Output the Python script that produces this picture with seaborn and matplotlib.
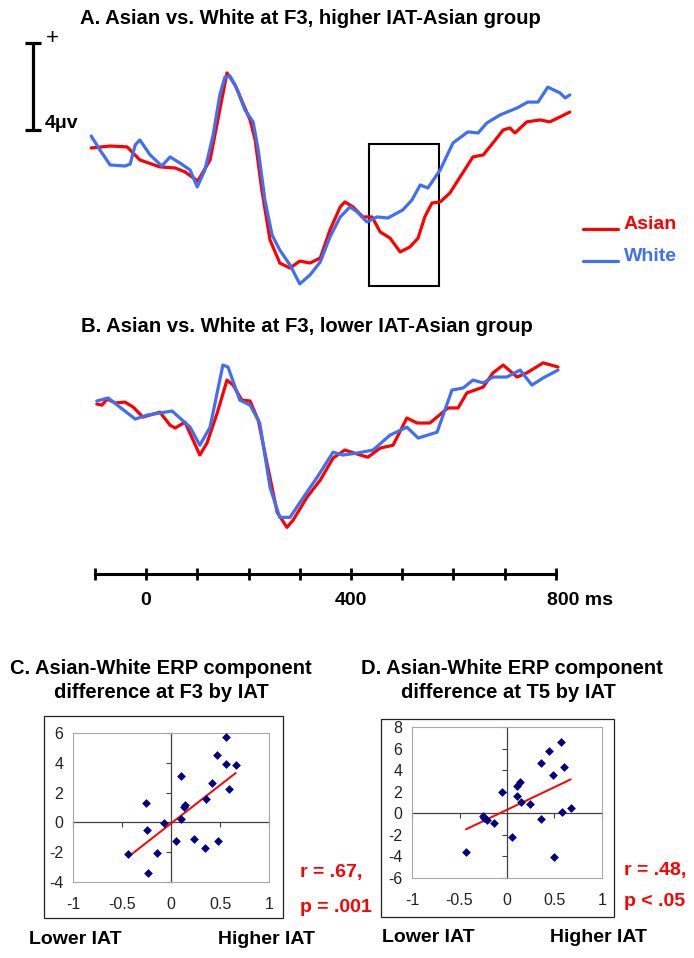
import numpy as np
import pandas as pd
import matplotlib
matplotlib.use("Agg")
import matplotlib.pyplot as plt
import seaborn as sns
from matplotlib.lines import Line2D
from matplotlib.patches import Rectangle
from matplotlib.transforms import ScaledTranslation

sns.set_style("white")
plt.rcParams["font.family"] = ["Liberation Sans", "DejaVu Sans"]
plt.rcParams["text.color"] = "black"
plt.rcParams["xtick.color"] = "black"
plt.rcParams["ytick.color"] = "black"
plt.rcParams["axes.labelcolor"] = "black"

# ---------------- data ----------------
# Panel A (higher IAT-Asian group), F3, time in ms, amplitude in microvolts
A_ASIAN_MS = [-107, -70, -37, -12, 27, 57, 76, 101, 125, 144, 158, 174, 193, 203, 213, 226,
              242, 261, 281, 300, 320, 340, 359, 379, 388, 404, 423, 441, 457, 476, 496, 515,
              531, 544, 558, 574, 593, 613, 638, 658, 677, 697, 710, 720, 743, 769, 788, 808, 827]
A_ASIAN_UV = [0.46, 0.55, 0.51, -0.09, -0.41, -0.46, -0.64, -1.06, -0.09, 2.21, 3.91, 3.36, 2.30,
              1.75, 0.83, -1.47, -3.77, -4.83, -5.06, -4.74, -4.83, -4.60, -3.31, -2.25, -2.02,
              -2.25, -2.71, -2.71, -3.40, -3.68, -4.32, -4.09, -3.68, -2.71, -2.07, -2.02, -1.61,
              -0.87, 0.05, 0.14, 0.69, 1.29, 1.38, 1.15, 1.66, 1.75, 1.66, 1.89, 2.11]
A_WHITE_MS = [-107, -90, -70, -41, -31, -21, -12, 8, 31, 47, 66, 86, 100, 115, 131, 144, 154,
              164, 178, 193, 209, 219, 232, 246, 261, 281, 300, 320, 340, 359, 379, 398, 412,
              431, 451, 472, 501, 519, 535, 550, 574, 599, 628, 648, 665, 691, 724, 745, 765,
              784, 808, 818, 827]
A_WHITE_UV = [1.01, 0.37, -0.32, -0.37, -0.28, 0.60, 0.83, 0.14, -0.37, 0.05, -0.23, -0.55,
              -1.33, -0.55, 1.06, 2.90, 3.72, 3.77, 3.13, 2.21, 1.66, 0.37, -1.93, -3.54, -4.23,
              -4.92, -5.79, -5.38, -4.78, -3.63, -2.71, -2.25, -2.48, -2.94, -2.71, -2.76, -2.39,
              -1.93, -1.24, -1.38, -0.55, 0.69, 1.20, 1.15, 1.61, 1.98, 2.30, 2.57, 2.57, 3.26,
              2.99, 2.76, 2.90]

# Panel B (lower IAT-Asian group), F3
B_ASIAN_MS = [-96, -86, -76, -60, -41, -25, -6, 27, 47, 57, 76, 92, 105, 119, 139, 158, 170,
              187, 203, 219, 236, 256, 275, 287, 314, 340, 365, 388, 418, 433, 457, 482, 509,
              529, 554, 589, 609, 626, 658, 677, 697, 724, 743, 775, 804]
B_ASIAN_UV = [0.00, -0.05, 0.23, 0.05, 0.09, -0.14, -0.60, -0.37, -0.97, -1.10, -0.83, -1.66,
              -2.34, -1.79, -0.41, 1.10, 0.87, 0.18, 0.14, -0.74, -2.71, -4.97, -5.66, -5.33,
              -4.28, -3.49, -2.48, -2.11, -2.34, -2.44, -2.02, -1.89, -0.64, -0.87, -0.87, -0.18,
              -0.18, 0.51, 0.78, 1.43, 1.79, 1.24, 1.43, 1.89, 1.70]
B_WHITE_MS = [-96, -74, -51, -21, 2, 27, 51, 66, 86, 105, 125, 150, 160, 183, 203, 222, 242,
              261, 281, 306, 334, 365, 384, 412, 443, 476, 509, 531, 568, 597, 619, 638, 658,
              677, 704, 730, 753, 775, 804]
B_WHITE_UV = [0.14, 0.28, -0.14, -0.69, -0.51, -0.41, -0.32, -0.64, -1.06, -1.89, -1.06, 1.79,
              1.70, 0.18, -0.05, -0.87, -3.82, -5.20, -5.20, -4.32, -3.36, -2.21, -2.34, -2.25,
              -2.11, -1.43, -1.06, -1.56, -1.29, 0.64, 0.74, 1.10, 0.97, 1.24, 1.24, 1.56, 0.87,
              1.20, 1.56]

# Panel C: IAT score vs Asian-White ERP difference at F3
C_IAT = [0.561, 0.466, 0.558, 0.660, 0.102, 0.418, 0.588, -0.255, 0.354, 0.143, 0.129, 0.102,
         -0.068, -0.245, 0.048, 0.235, 0.476, 0.347, -0.435, -0.139, -0.235]
C_DIFF = [5.76, 4.51, 3.93, 3.87, 3.13, 2.64, 2.24, 1.33, 1.60, 1.20, 1.04, 0.20, -0.02, -0.51,
          -1.24, -1.11, -1.24, -1.71, -2.13, -2.04, -3.40]
# Panel D: IAT score vs Asian-White ERP difference at T5
D_IAT = [0.571, 0.439, 0.361, 0.600, 0.479, 0.136, 0.107, -0.054, 0.107, 0.150, 0.246, 0.671,
         0.575, -0.250, -0.239, -0.214, -0.132, 0.357, 0.057, -0.432, 0.493]
D_DIFF = [6.59, 5.75, 4.69, 4.25, 3.59, 2.91, 2.53, 2.00, 1.63, 1.03, 0.84, 0.50, 0.13, -0.28,
          -0.47, -0.63, -0.94, -0.50, -2.22, -3.59, -4.06]

TIME_TICKS = list(range(-100, 801, 100))
TIME_LABELS = {0: "0", 400: "400", 800: "800 ms"}
SCALE_UV = 4
WINDOW_MS = (435, 572)
WINDOW_UV = (-5.9, 0.64)
X_TICKS = [-1, -0.5, 0, 0.5, 1]
X_TICKLABELS = ["-1", "-0.5", "0", "0.5", "1"]
C_YTICKS = [-4, -2, 0, 2, 4, 6]
D_YTICKS = [-6, -4, -2, 0, 2, 4, 6, 8]

RED = "#ff0000"
BLUE = "#3f6ff2"
NAVY = "#000080"

W, H = 694, 958
fig = plt.figure(figsize=(W / 100, H / 100), dpi=100)
fig.patch.set_facecolor("white")


def px_axes(l, t, r, b):
    ax = fig.add_axes([l / W, 1 - b / H, (r - l) / W, (b - t) / H])
    ax.set_facecolor("none")
    return ax


def ftext(x, y, s, **kw):
    return fig.text(x / W, 1 - y / H, s, **kw)


XLIM = (-284.9, 1069.3)


def long_df(a_ms, a_uv, w_ms, w_uv):
    return pd.DataFrame({
        "time": list(a_ms) + list(w_ms),
        "uv": list(a_uv) + list(w_uv),
        "group": ["Asian"] * len(a_ms) + ["White"] * len(w_ms),
    })


pal = {"Asian": RED, "White": BLUE}

# ---------------- Panel A ----------------
axA = px_axes(0, 30, 694, 300)
dfA = long_df(A_ASIAN_MS, A_ASIAN_UV, A_WHITE_MS, A_WHITE_UV)
sns.lineplot(data=dfA, x="time", y="uv", hue="group", palette=pal, hue_order=["Asian", "White"],
             estimator=None, sort=False, lw=2.3, ax=axA, legend=False)
axA.set_xlim(*XLIM)
axA.set_ylim(-6.53, 5.885)
axA.axis("off")
axA.add_patch(Rectangle((WINDOW_MS[0], WINDOW_UV[0]), WINDOW_MS[1] - WINDOW_MS[0],
                        WINDOW_UV[1] - WINDOW_UV[0], fill=False, ec="black", lw=1.5))
# scale bar
bx, by = -220.5, 1.29
axA.plot([bx, bx], [by, by + SCALE_UV], color="black", lw=2.3, clip_on=False, solid_capstyle="butt")
for yy in (by, by + SCALE_UV):
    axA.plot([bx - 16, bx + 15], [yy, yy], color="black", lw=2.3, clip_on=False, solid_capstyle="butt")
axA.text(-183, 5.5, "+", fontsize=16, ha="center", va="center")
axA.text(-198, by + 0.3, f"{SCALE_UV}μv", fontsize=14, fontweight="bold", ha="left", va="center")

handles = [Line2D([], [], color=RED, lw=2.3), Line2D([], [], color=BLUE, lw=2.3)]
leg = axA.legend(handles, ["Asian", "White"], loc="upper left",
                 bbox_to_anchor=(583 / W, 1 - 215 / H), bbox_transform=fig.transFigure,
                 frameon=False, prop={"weight": "bold", "size": 14}, handlelength=1.8,
                 handletextpad=0.3, labelspacing=0.75, borderpad=0, borderaxespad=0)
for t, c in zip(leg.get_texts(), [RED, BLUE]):
    t.set_color(c)
for ln in leg.get_lines():
    ln.set_ydata(np.zeros(len(ln.get_xdata())))

ftext(310, 19, "A. Asian vs. White at F3, higher IAT-Asian group", ha="center", va="center",
      fontsize=14.6, fontweight="bold")

# ---------------- Panel B ----------------
axB = px_axes(0, 340, 694, 574)
dfB = long_df(B_ASIAN_MS, B_ASIAN_UV, B_WHITE_MS, B_WHITE_UV)
sns.lineplot(data=dfB, x="time", y="uv", hue="group", palette=pal, hue_order=["Asian", "White"],
             estimator=None, sort=False, lw=2.3, ax=axB, legend=False)
axB.set_xlim(*XLIM)
axB.set_ylim(-7.8, 2.94)
axB.set_xlabel("")
axB.set_ylabel("")
for s in ("top", "left", "right"):
    axB.spines[s].set_visible(False)
axB.spines["bottom"].set_bounds(TIME_TICKS[0], TIME_TICKS[-1])
axB.spines["bottom"].set_linewidth(2.2)
axB.spines["bottom"].set_color("black")
axB.set_yticks([])
axB.set_xticks(TIME_TICKS)
axB.set_xticklabels([TIME_LABELS.get(t, "") for t in TIME_TICKS])
axB.tick_params(axis="x", direction="inout", length=8, width=2, color="black", pad=9,
                labelsize=14, labelcolor="black", bottom=True)
for lbl in axB.get_xticklabels():
    lbl.set_fontweight("bold")
    if lbl.get_text().endswith("ms"):
        lbl.set_horizontalalignment("left")
        lbl.set_transform(lbl.get_transform() + ScaledTranslation(-0.09, 0, fig.dpi_scale_trans))

ftext(307, 327, "B. Asian vs. White at F3, lower IAT-Asian group", ha="center", va="center",
      fontsize=14.6, fontweight="bold")


# ---------------- Panels C & D ----------------
def scatter_panel(box, frame, x, y, yticks, ylim):
    ax = px_axes(*box)
    df = pd.DataFrame({"iat": x, "diff": y})
    sns.scatterplot(data=df, x="iat", y="diff", marker="D", s=20, color=NAVY, edgecolor=NAVY,
                    linewidth=0, ax=ax, zorder=4)
    sns.regplot(data=df, x="iat", y="diff", scatter=False, ci=None, truncate=True, color=RED,
                line_kws={"lw": 1.4, "zorder": 3}, ax=ax)
    ax.set_xlim(-1, 1)
    ax.set_ylim(*ylim)
    ax.set_xticks(X_TICKS)
    ax.set_xticklabels(X_TICKLABELS)
    ax.set_yticks(yticks)
    ax.set_yticklabels([str(v) for v in yticks])
    ax.set_xlabel("")
    ax.set_ylabel("")
    ax.tick_params(length=0, labelsize=11.5, labelcolor="#222222")
    ax.tick_params(axis="y", pad=7)
    ax.tick_params(axis="x", pad=11)
    for s in ax.spines.values():
        s.set_color("#a8a8a8")
        s.set_linewidth(0.8)
    x0 = (0 - ax.get_xlim()[0]) / (ax.get_xlim()[1] - ax.get_xlim()[0])
    y0 = (0 - ylim[0]) / (ylim[1] - ylim[0])
    sy = ax.secondary_yaxis(x0)
    sy.set_yticks(yticks)
    sy.tick_params(direction="in", length=3.5, width=0.8, color="#404040",
                   labelleft=False, labelright=False)
    for s in sy.spines.values():
        s.set_color("#404040")
        s.set_linewidth(0.9)
    sx = ax.secondary_xaxis(y0)
    sx.set_xticks(X_TICKS)
    sx.tick_params(direction="out", length=3.5, width=0.8, color="#404040",
                   labelbottom=False, labeltop=False)
    for s in sx.spines.values():
        s.set_color("#404040")
        s.set_linewidth(0.9)
    l, t, r, b = frame
    fig.add_artist(Rectangle((l / W, 1 - b / H), (r - l) / W, (b - t) / H,
                             transform=fig.transFigure, fill=False, ec="#222222", lw=0.9))
    return ax


scatter_panel((73, 733, 269, 882), (44, 716, 283, 918), C_IAT, C_DIFF, C_YTICKS, (-4, 6))
scatter_panel((412, 727, 602, 878), (381, 719, 614, 917), D_IAT, D_DIFF, D_YTICKS, (-6, 8))

title_kw = dict(ha="center", va="center", fontsize=14.5, fontweight="bold")
ftext(161, 668, "C. Asian-White ERP component", **title_kw)
ftext(161, 693, "difference at F3 by IAT", **title_kw)
ftext(512, 668, "D. Asian-White ERP component", **title_kw)
ftext(508, 693, "difference at T5 by IAT", **title_kw)

stat_kw = dict(ha="left", va="center", fontsize=14, fontweight="bold", color=RED)
ftext(300, 872, "r = .67,", **stat_kw)
ftext(300, 908, "p = .001", **stat_kw)
ftext(624, 871, "r = .48,", **stat_kw)
ftext(624, 901, "p < .05", **stat_kw)

lab_kw = dict(ha="center", va="center", fontsize=14, fontweight="bold")
ftext(75, 940, "Lower IAT", **lab_kw)
ftext(266, 940, "Higher IAT", **lab_kw)
ftext(428, 938, "Lower IAT", **lab_kw)
ftext(598, 938, "Higher IAT", **lab_kw)

fig.savefig("out.png", dpi=100, facecolor="white")
